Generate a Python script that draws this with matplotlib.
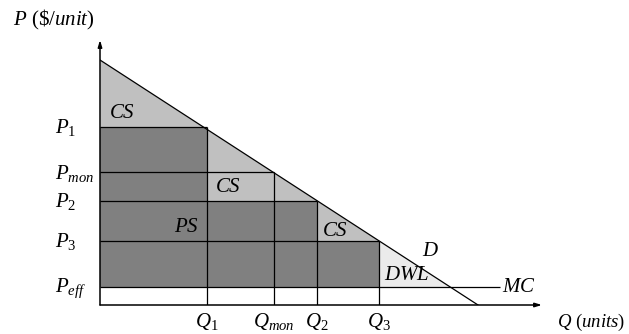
import matplotlib
matplotlib.use("Agg")
import matplotlib.pyplot as plt
import numpy as np

plt.rcParams['font.family'] = ['Liberation Serif', 'DejaVu Serif']
plt.rcParams['mathtext.fontset'] = 'custom'
plt.rcParams['mathtext.rm'] = 'Liberation Serif'
plt.rcParams['mathtext.it'] = 'Liberation Serif:italic'

# Data (arbitrary units)
q_names = [r'$Q_1$', r'$Q_{mon}$', r'$Q_2$', r'$Q_3$']
q_vals = [107, 174, 217, 279]
p_names = [r'$P_1$', r'$P_{mon}$', r'$P_2$', r'$P_3$', r'$P_{eff}$']
p_vals = [178, 133, 104, 64, 18]
demand_q = [0, 378]
demand_p = [245, 0]
mc_end = 400

CS_COL = '#c0c0c0'
PS_COL = '#808080'
DWL_COL = '#ebebeb'

W, H = 629, 334
fig = plt.figure(figsize=(W / 100, H / 100), dpi=100)
ox, oy = 100, 305  # origin in pixels
xr, yr = 440, 265
ax = fig.add_axes([ox / W, (H - oy) / H, xr / W, yr / H])
ax.set_xlim(0, xr)
ax.set_ylim(0, yr)
ax.axis('off')

def demand(q):
    return np.interp(q, demand_q, demand_p)

p_eff = p_vals[-1]
q1, qmon, q2, q3 = q_vals
p1, pmon, p2, p3 = p_vals[:4]
q_int = np.interp(p_eff, demand_p[::-1], demand_q[::-1])

# light gray consumer surplus region (under demand, above P_eff, up to Q3)
qq = np.array([0, q3])
ax.fill_between(qq, p_eff, demand(qq), color=CS_COL, lw=0)
# dead weight loss
qq2 = np.array([q3, q_int])
ax.fill_between(qq2, p_eff, demand(qq2), color=DWL_COL, lw=0)
# producer surplus steps
ax.fill_between([0, q1, q1, q2, q2, q3], p_eff, [p1, p1, p2, p2, p3, p3], color=PS_COL, lw=0)

lw = 0.9
ax.hlines([p1, pmon, p2, p3], 0, q_vals, color='black', lw=lw)
ax.vlines(q_vals, 0, [p1, pmon, p2, p3], color='black', lw=lw)
ax.hlines(p_eff, 0, mc_end, color='black', lw=lw)
ax.plot(demand_q, demand_p, color='black', lw=lw)

# axes with arrows
ax.annotate('', xy=(0, yr), xytext=(0, 0),
            arrowprops=dict(arrowstyle='-|>,head_length=0.4,head_width=0.12', color='black', lw=1.1, shrinkA=0, shrinkB=0))
ax.annotate('', xy=(442, 0), xytext=(0, 0),
            arrowprops=dict(arrowstyle='-|>,head_length=0.4,head_width=0.12', color='black', lw=1.1, shrinkA=0, shrinkB=0),
            annotation_clip=False)

fs = 15
for name, p in zip(p_names, p_vals):
    ax.text(-45, p - 1, name, ha='left', va='center', fontsize=fs, clip_on=False)
for name, q in zip(q_names, q_vals):
    ax.text(q, -17, name, ha='center', va='center', fontsize=fs, clip_on=False)

ax.text(-87, 285, r'$P$ (\$/$unit$)', ha='left', va='center', fontsize=fs, clip_on=False)
ax.text(525, -17, r'$Q$ ($units$)', ha='right', va='center', fontsize=13.5, clip_on=False)

ax.text(22, 191.5, r'$CS$', ha='center', va='center', fontsize=fs)
ax.text(128, 118, r'$CS$', ha='center', va='center', fontsize=fs)
ax.text(86, 78, r'$PS$', ha='center', va='center', fontsize=fs)
ax.text(235, 73, r'$CS$', ha='center', va='center', fontsize=fs)
ax.text(330, 53, r'$D$', ha='center', va='center', fontsize=fs)
ax.text(307, 30, r'$DWL$', ha='center', va='center', fontsize=fs)
ax.text(419, 18, r'$MC$', ha='center', va='center', fontsize=fs, clip_on=False)

fig.savefig('out.png', dpi=100)
